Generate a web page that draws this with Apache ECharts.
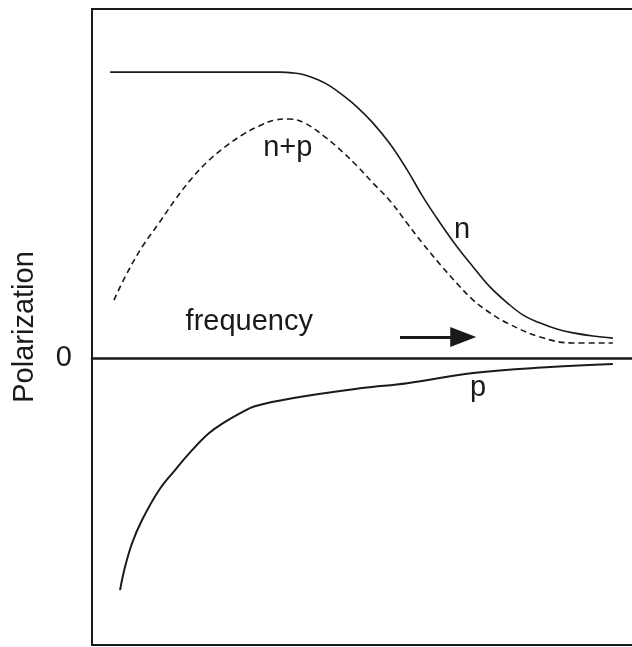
<!DOCTYPE html>
<html>
<head>
<meta charset="utf-8">
<script src="https://cdn.jsdelivr.net/npm/echarts@6/dist/echarts.min.js"></script>
<style>
html,body{margin:0;padding:0;background:#fff;}
#chart{width:632px;height:647px;}
</style>
</head>
<body>
<div id="chart"></div>
<script>
// frequency (arbitrary units) and polarization (arbitrary units)
const nFreq = [3.3, 19.6, 34.2, 36.4, 38.7, 41.1, 43.3, 46.0, 48.2, 51.1, 54.2, 57.3, 60.2, 63.3, 66.4, 69.3, 72.4, 75.5, 78.4, 81.5, 84.5, 87.5, 91.1, 94.7];
const nVal  = [0.819, 0.819, 0.819, 0.817, 0.811, 0.797, 0.779, 0.748, 0.719, 0.673, 0.613, 0.539, 0.461, 0.387, 0.318, 0.261, 0.203, 0.158, 0.123, 0.100, 0.083, 0.072, 0.063, 0.057];

const npFreq = [4.0, 6.0, 9.1, 12.2, 15.1, 18.2, 21.3, 24.2, 27.3, 30.4, 33.3, 35.8, 38.7, 42.4, 45.6, 48.2, 51.1, 54.2, 57.3, 60.2, 63.3, 66.4, 69.3, 72.4, 75.5, 81.5, 87.5, 94.7];
const npVal  = [0.166, 0.232, 0.318, 0.387, 0.453, 0.516, 0.567, 0.605, 0.639, 0.665, 0.682, 0.685, 0.673, 0.633, 0.590, 0.550, 0.501, 0.450, 0.386, 0.327, 0.268, 0.213, 0.166, 0.129, 0.100, 0.060, 0.043, 0.043];

const pFreq = [5.1, 6.0, 7.3, 9.1, 12.2, 15.1, 18.2, 21.3, 24.2, 27.3, 29.6, 36.4, 49.1, 57.3, 69.3, 83.3, 94.7];
const pVal  = [-0.665, -0.599, -0.530, -0.464, -0.378, -0.321, -0.264, -0.215, -0.183, -0.155, -0.138, -0.115, -0.086, -0.072, -0.043, -0.026, -0.017];

const yTickLabels = [0];

// annotation anchors (data coordinates)
const labelTexts = ['n+p', 'n', 'p', 'frequency'];
const labelFreq  = [35.6, 67.3, 70.2, 28.6];
const labelVal   = [0.602, 0.367, -0.086, 0.103];
const arrowFreq  = [56.0, 67.5];
const arrowVal   = [0.060, 0.060];

const zip = (a, b) => a.map((v, i) => [v, b[i]]);
const FONT = '"Liberation Sans", Arial, Helvetica, sans-serif';
const INK = '#1a1a1a';
const FS = 29;

const chart = echarts.init(document.getElementById('chart'), null, {renderer: 'canvas'});
chart.setOption({
  animation: false,
  backgroundColor: '#fff',
  grid: {left: 92, width: 550, top: 9, bottom: 2, outerBoundsMode: 'none', containLabel: false,
         show: true, borderColor: INK, borderWidth: 2, backgroundColor: 'transparent'},
  xAxis: {
    type: 'value', min: 0, max: 100,
    axisLine: {show: true, onZero: true, lineStyle: {color: INK, width: 2.5}},
    axisTick: {show: false}, axisLabel: {show: false}, splitLine: {show: false}
  },
  yAxis: {
    type: 'value', min: -0.8223, max: 1,
    name: 'Polarization', nameLocation: 'middle', nameGap: 53, nameRotate: 90,
    nameTextStyle: {fontFamily: FONT, fontSize: FS, color: INK},
    axisLine: {show: true, lineStyle: {color: INK, width: 2}},
    axisTick: {show: false},
    axisLabel: {show: true, customValues: yTickLabels, margin: 20, fontFamily: FONT, fontSize: FS, color: INK},
    splitLine: {show: false}
  },
  series: [
    {
      name: 'n', type: 'line', data: zip(nFreq, nVal), showSymbol: false, smooth: 0.4,
      lineStyle: {color: INK, width: 1.6}
    },
    {
      name: 'n+p', type: 'line', data: zip(npFreq, npVal), showSymbol: false, smooth: 0.4,
      lineStyle: {color: INK, width: 1.6, type: [6, 4]}
    },
    {
      name: 'p', type: 'line', data: zip(pFreq, pVal), showSymbol: false, smooth: 0.4,
      lineStyle: {color: INK, width: 2}
    },
    {
      name: 'annotations', type: 'line', data: [], silent: true,
      markPoint: {
        symbol: 'circle', symbolSize: 0, silent: true,
        label: {show: true, position: 'inside', fontFamily: FONT, fontSize: FS, color: INK, formatter: p => p.name},
        data: labelTexts.map((t, i) => ({name: t, coord: [labelFreq[i], labelVal[i]]}))
      },
      markLine: {
        silent: true, symbol: ['none', 'triangle'], symbolSize: [20, 26],
        label: {show: false},
        lineStyle: {color: INK, width: 3, type: 'solid'},
        data: [[{coord: [arrowFreq[0], arrowVal[0]]}, {coord: [arrowFreq[1], arrowVal[1]]}]]
      }
    }
  ]
});
</script>
</body>
</html>
